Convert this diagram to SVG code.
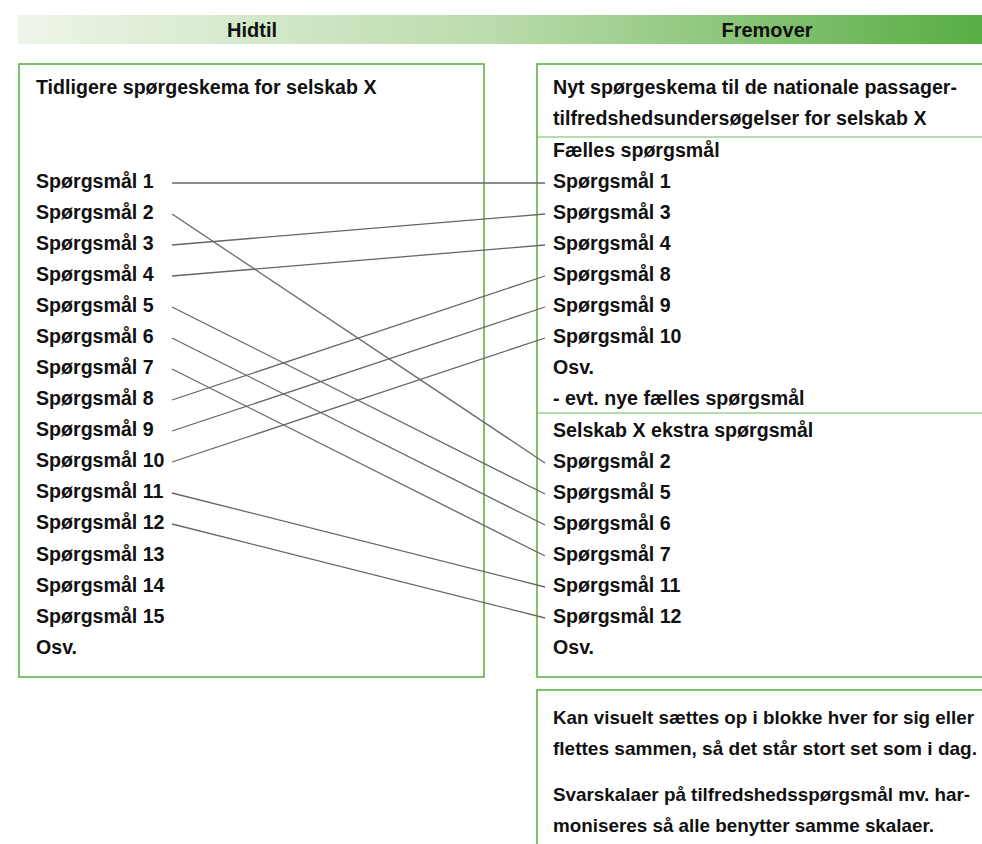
<svg xmlns="http://www.w3.org/2000/svg" width="982" height="844" viewBox="0 0 982 844">
  <defs>
    <linearGradient id="hdr" x1="0" y1="0" x2="1" y2="0">
      <stop offset="0" stop-color="#eef5e9"/>
      <stop offset="0.5" stop-color="#b9dbaa"/>
      <stop offset="1" stop-color="#58ad44"/>
    </linearGradient>
  </defs>
  <style>
    text { font-family: "Liberation Sans", Arial, sans-serif; font-weight: bold; font-size: 19.6px; fill: #111; }
    .hdr { font-size: 20px; text-anchor: middle; }
    .note { font-size: 18.6px; }
    .box { fill: #fff; stroke: #5db547; stroke-width: 1.6; }
    .sep { stroke: #6dbb58; stroke-width: 1.1; }
    .conn line { stroke: #666; stroke-width: 1.3; }
  </style>

  <!-- header band -->
  <g id="header">
    <rect x="18" y="15" width="964" height="29" fill="url(#hdr)"/>
    <text class="hdr" x="252" y="37">Hidtil</text>
    <text class="hdr" x="767" y="37">Fremover</text>
  </g>

  <!-- previous questionnaire -->
  <g id="old">
    <rect class="box" x="19" y="64" width="465" height="613"/>
    <text x="36" y="94">Tidligere spørgeskema for selskab X</text>
    <text x="36" y="188">Spørgsmål 1</text>
    <text x="36" y="219">Spørgsmål 2</text>
    <text x="36" y="250">Spørgsmål 3</text>
    <text x="36" y="281">Spørgsmål 4</text>
    <text x="36" y="312">Spørgsmål 5</text>
    <text x="36" y="343">Spørgsmål 6</text>
    <text x="36" y="374">Spørgsmål 7</text>
    <text x="36" y="405">Spørgsmål 8</text>
    <text x="36" y="436">Spørgsmål 9</text>
    <text x="36" y="467">Spørgsmål 10</text>
    <text x="36" y="498">Spørgsmål 11</text>
    <text x="36" y="529">Spørgsmål 12</text>
    <text x="36" y="561">Spørgsmål 13</text>
    <text x="36" y="592">Spørgsmål 14</text>
    <text x="36" y="623">Spørgsmål 15</text>
    <text x="36" y="654">Osv.</text>
  </g>

  <!-- new questionnaire -->
  <g id="new">
    <rect class="box" x="537" y="64" width="460" height="613"/>
    <text x="553" y="94">Nyt spørgeskema til de nationale passager-</text>
    <text x="553" y="125">tilfredshedsundersøgelser for selskab X</text>
    <line class="sep" x1="537" y1="137" x2="982" y2="137"/>
    <text x="553" y="157">Fælles spørgsmål</text>
    <text x="553" y="188">Spørgsmål 1</text>
    <text x="553" y="219">Spørgsmål 3</text>
    <text x="553" y="250">Spørgsmål 4</text>
    <text x="553" y="281">Spørgsmål 8</text>
    <text x="553" y="312">Spørgsmål 9</text>
    <text x="553" y="343">Spørgsmål 10</text>
    <text x="553" y="374">Osv.</text>
    <text x="553" y="405">- evt. nye fælles spørgsmål</text>
    <line class="sep" x1="537" y1="413" x2="982" y2="413"/>
    <text x="553" y="437">Selskab X ekstra spørgsmål</text>
    <text x="553" y="468">Spørgsmål 2</text>
    <text x="553" y="499">Spørgsmål 5</text>
    <text x="553" y="530">Spørgsmål 6</text>
    <text x="553" y="561">Spørgsmål 7</text>
    <text x="553" y="592">Spørgsmål 11</text>
    <text x="553" y="623">Spørgsmål 12</text>
    <text x="553" y="654">Osv.</text>
  </g>

  <!-- remarks -->
  <g id="remarks">
    <rect class="box" x="537" y="690" width="460" height="170"/>
    <text class="note" x="553" y="724" textLength="421" lengthAdjust="spacingAndGlyphs">Kan visuelt sættes op i blokke hver for sig eller</text>
    <text class="note" x="553" y="755" textLength="424" lengthAdjust="spacingAndGlyphs">flettes sammen, så det står stort set som i dag.</text>
    <text class="note" x="553" y="801" textLength="417" lengthAdjust="spacingAndGlyphs">Svarskalaer på tilfredshedsspørgsmål mv. har-</text>
    <text class="note" x="553" y="832" textLength="381" lengthAdjust="spacingAndGlyphs">moniseres så alle benytter samme skalaer.</text>
  </g>

  <!-- mapping from old to new question numbers -->
  <g id="connectors" class="conn">
    <line x1="172" y1="183" x2="545" y2="183"/>
    <line x1="172" y1="214" x2="545" y2="463"/>
    <line x1="172" y1="245" x2="545" y2="214"/>
    <line x1="172" y1="276" x2="545" y2="245"/>
    <line x1="172" y1="307" x2="545" y2="494"/>
    <line x1="172" y1="338" x2="545" y2="525"/>
    <line x1="172" y1="369" x2="545" y2="556"/>
    <line x1="172" y1="400" x2="545" y2="276"/>
    <line x1="172" y1="431" x2="545" y2="307"/>
    <line x1="172" y1="462" x2="545" y2="338"/>
    <line x1="172" y1="493" x2="545" y2="587"/>
    <line x1="172" y1="524" x2="545" y2="618"/>
  </g>
</svg>
